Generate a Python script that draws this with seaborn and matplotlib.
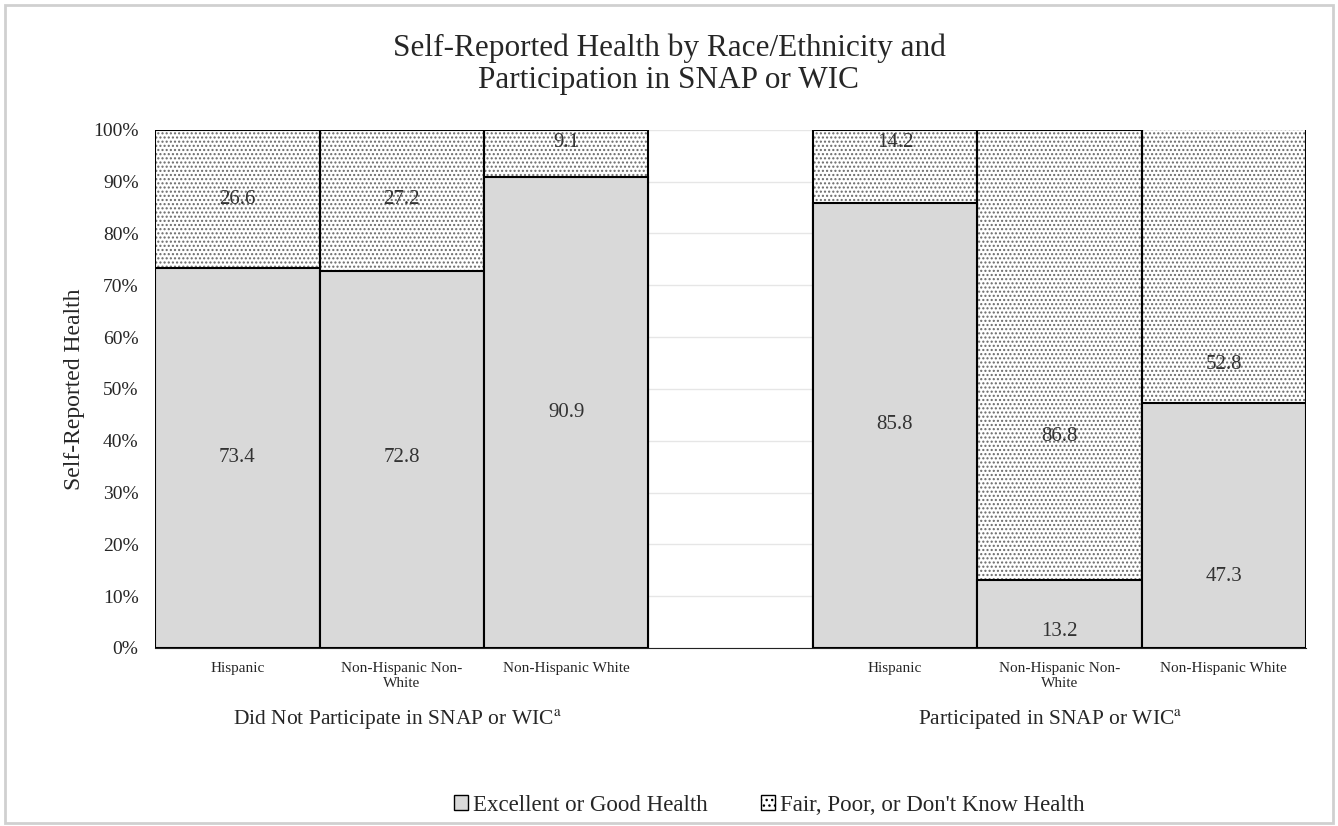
import pandas as pd
import seaborn as sns
import matplotlib.pyplot as plt
from matplotlib.patches import Rectangle, Patch

groups = ["Did Not Participate in SNAP or WIC", "Participated in SNAP or WIC"]
races = ["Hispanic", "Non-Hispanic Non-\nWhite", "Non-Hispanic White"]
excellent = [73.4, 72.8, 90.9, 85.8, 13.2, 47.3]
fair = [26.6, 27.2, 9.1, 14.2, 86.8, 52.8]

# where the value labels sit in the original chart (in %)
excellent_label_y = [36.7, 36.7, 45.4, 43.1, 3.1, 13.7]
fair_label_y = [86.5, 86.5, 97.5, 97.5, 40.9, 54.6]

slots = ["n0", "n1", "n2", "gap", "p0", "p1", "p2"]
bar_slots = ["n0", "n1", "n2", "p0", "p1", "p2"]
df = pd.DataFrame({"slot": bar_slots, "excellent": excellent, "fair": fair})
df["total"] = df["excellent"] + df["fair"]

sns.set_style("white")
plt.rcParams["font.family"] = ["Liberation Serif", "DejaVu Serif"]
plt.rcParams["mathtext.fontset"] = "stix"
plt.rcParams["hatch.linewidth"] = 1.0

fig = plt.figure(figsize=(13.38, 8.26), dpi=100)
ax = fig.add_axes([0.116, 0.2155, 0.86, 0.6275])

sns.barplot(data=df, x="slot", y="total", order=slots, color="white", width=1.0,
            edgecolor="#6a6a6a", linewidth=0, hatch="....", saturation=1, ax=ax, zorder=2)
sns.barplot(data=df, x="slot", y="total", order=slots, fill=False, width=1.0,
            edgecolor="black", linewidth=1.5, ax=ax, zorder=3)
sns.barplot(data=df, x="slot", y="excellent", order=slots, color="#d9d9d9", width=1.0,
            edgecolor="black", linewidth=1.5, saturation=1, ax=ax, zorder=4)

xpos = [slots.index(s) for s in bar_slots]
for x, v, ly in zip(xpos, excellent, excellent_label_y):
    ax.text(x, ly, f"{v:.1f}", ha="center", va="center", fontsize=15, color="#333333", zorder=5)
for x, v, ly in zip(xpos, fair, fair_label_y):
    ax.text(x, ly, f"{v:.1f}", ha="center", va="center", fontsize=15, color="#333333", zorder=5)

ax.set_ylim(0, 100)
ax.set_xlim(-0.5, 6.5)
ax.set_yticks(range(0, 101, 10))
ax.set_yticklabels([f"{t}%" for t in range(0, 101, 10)], fontsize=14)
ax.set_xticks(range(7))
ax.set_xticklabels(races + [""] + races, fontsize=11)
ax.tick_params(axis="x", length=0, pad=10)
ax.tick_params(axis="y", length=0, pad=12)
ax.yaxis.grid(True, color="#e6e6e6", linewidth=1, zorder=0)
ax.set_axisbelow(True)
for side in ["top", "right", "left"]:
    ax.spines[side].set_visible(False)
ax.spines["bottom"].set_color("#222222")
ax.set_xlabel("")
ax.set_ylabel("Self-Reported Health", fontsize=17, labelpad=6)

fig.text(0.5, 0.922, "Self-Reported Health by Race/Ethnicity and\nParticipation in SNAP or WIC",
         ha="center", va="center", fontsize=22.5, linespacing=1.15)
fig.text(0.297, 0.129, groups[0] + r"$^{\mathrm{a}}$", ha="center", va="center", fontsize=15.5)
fig.text(0.785, 0.129, groups[1] + r"$^{\mathrm{a}}$", ha="center", va="center", fontsize=15.5)

handles = [Patch(facecolor="#d9d9d9", edgecolor="black", linewidth=1),
           Patch(facecolor="white", edgecolor="black", linewidth=1, hatch="...")]
fig.legend(handles, ["Excellent or Good Health", "Fair, Poor, or Don't Know Health"],
           loc="center", bbox_to_anchor=(0.575, 0.025), ncol=2, frameon=False, fontsize=16.5,
           handlelength=0.6, handleheight=0.6, handletextpad=0.25, columnspacing=2.3)

fig.patches.append(Rectangle((0.004, 0.004), 0.992, 0.99, transform=fig.transFigure,
                             fill=False, edgecolor="#d0d0d0", linewidth=2))

fig.savefig("out.png", dpi=100)
